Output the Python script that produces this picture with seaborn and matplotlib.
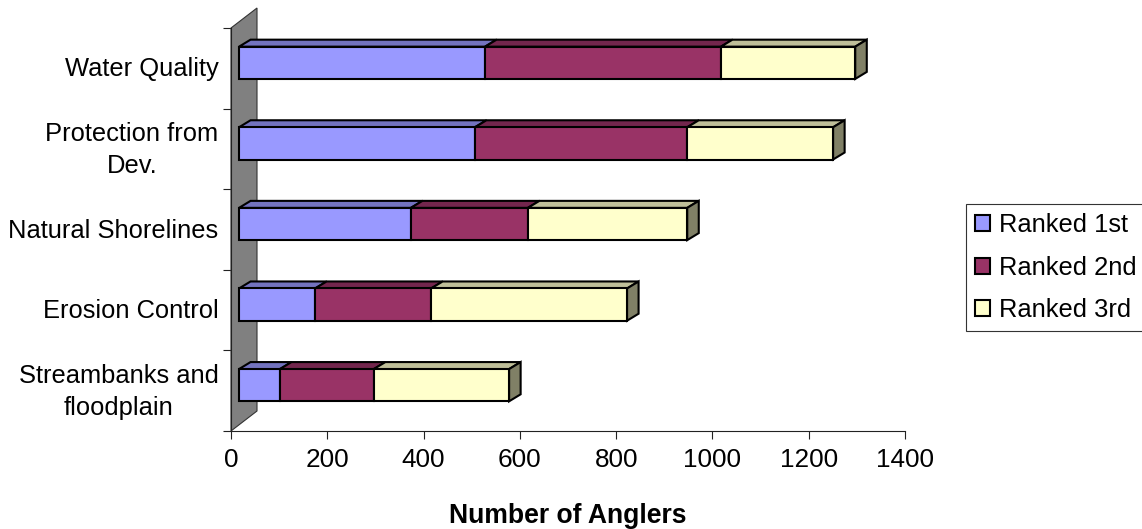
import matplotlib
matplotlib.use("Agg")
import matplotlib.pyplot as plt
import matplotlib.transforms as mtransforms
import numpy as np
import seaborn as sns
from matplotlib.patches import Polygon

categories = ["Water Quality", "Protection from\nDev.", "Natural Shorelines",
              "Erosion Control", "Streambanks and\nfloodplain"]
ranked_1st = [511, 490, 357, 158, 85]
ranked_2nd = [490, 441, 243, 241, 195]
ranked_3rd = [279, 303, 331, 407, 281]
series_names = ["Ranked 1st", "Ranked 2nd", "Ranked 3rd"]
x_ticks = [0, 200, 400, 600, 800, 1000, 1200, 1400]

colors = ["#9999FF", "#993366", "#FFFFCC"]
top_colors = ["#7373BF", "#73264D", "#BFBF99"]
side_color = "#808066"
FONT_SIZE = 18.4

sns.set_style("white")
plt.rcParams["font.family"] = ["Liberation Sans", "DejaVu Sans"]

W, H = 1142, 529
fig = plt.figure(figsize=(W / 100, H / 100), dpi=100)
ax = fig.add_axes([231 / W, 1 - 431 / H, 674 / W, 403 / H])

# stacked bars, drawn with seaborn one series at a time
lefts = np.zeros(len(categories))
for name, vals, col in zip(series_names, [ranked_1st, ranked_2nd, ranked_3rd], colors):
    sns.barplot(x=vals, y=categories, orient="h", color=col, saturation=1, width=0.4,
                left=lefts, edgecolor="black", linewidth=1.5, label=name, ax=ax, zorder=5)
    lefts = lefts + np.array(vals)

ax.set_xlim(0, 1400)
ax.set_ylim(4.5, -0.5)

# bars sit in the middle of the 3d depth
mid_depth = ax.transData + mtransforms.ScaledTranslation(8 / 100, 5.5 / 100, fig.dpi_scale_trans)
depth_x, depth_y = 24, 0.087
n = len(categories)
for i, container in enumerate(ax.containers):
    for bar in container:
        bar.set_transform(mid_depth)
        bar.set_clip_on(False)
        bar.set_joinstyle("miter")
        x0, x1 = bar.get_x(), bar.get_x() + bar.get_width()
        y0 = bar.get_y()
        y1 = y0 + bar.get_height()
        top = [(x0, y0), (x1, y0), (x1 + depth_x, y0 - depth_y), (x0 + depth_x, y0 - depth_y)]
        ax.add_patch(Polygon(top, closed=True, facecolor=top_colors[i], edgecolor="black",
                             linewidth=1.5, transform=mid_depth, clip_on=False, zorder=4,
                             joinstyle="miter"))
        if i == 2:
            side = [(x1, y0), (x1 + depth_x, y0 - depth_y), (x1 + depth_x, y1 - depth_y), (x1, y1)]
            ax.add_patch(Polygon(side, closed=True, facecolor=side_color, edgecolor="black",
                                 linewidth=1.5, transform=mid_depth, clip_on=False, zorder=4,
                                 joinstyle="miter"))

# grey back wall
wall_dx, wall_dy = 26 / 674, 20 / 403
ax.add_patch(Polygon([(0, 0), (wall_dx, wall_dy), (wall_dx, 1 + wall_dy), (0, 1)], closed=True,
                     facecolor="#808080", edgecolor="#333333", linewidth=0.8,
                     transform=ax.transAxes, clip_on=False, zorder=1))

sns.despine(ax=ax)
for side_name in ["left", "bottom"]:
    ax.spines[side_name].set_color("#222222")
    ax.spines[side_name].set_linewidth(0.8)

ax.set_xticks(x_ticks)
ax.set_xticklabels([str(t) for t in x_ticks])
ax.set_yticks(range(n))
ax.set_yticklabels(categories, multialignment="center", linespacing=1.4)
ax.set_yticks(np.arange(-0.5, n), minor=True)
ax.tick_params(axis="y", which="major", length=0, pad=9, labelsize=FONT_SIZE, labelcolor="black")
ax.tick_params(axis="y", which="minor", left=True, length=6, width=0.8, color="#222222")
ax.tick_params(axis="x", bottom=True, length=6, width=0.8, color="#222222", pad=6.5,
               labelsize=18.8, labelcolor="black")

# two-line labels sit a little higher than matplotlib centres them
for label in ax.get_yticklabels():
    up = 5 if "\n" in label.get_text() else 1.5
    label.set_transform(label.get_transform()
                        + mtransforms.ScaledTranslation(0, up / 100, fig.dpi_scale_trans))

ax.set_ylabel("")
ax.set_xlabel("Number of Anglers", fontsize=19.1, fontweight="bold", labelpad=22, color="black")

if ax.get_legend() is not None:
    ax.get_legend().remove()
handles = [c.patches[0] for c in ax.containers]
leg = fig.legend(handles, series_names, loc="upper left", bbox_to_anchor=(966 / W, 1 - 204 / H),
                 borderaxespad=0, fontsize=FONT_SIZE, frameon=True, fancybox=False, framealpha=1,
                 edgecolor="#333333", handlelength=0.58, handleheight=0.58, handletextpad=0.35,
                 labelspacing=0.72, borderpad=0.36, labelcolor="black")
leg.get_frame().set_linewidth(0.8)

fig.savefig("out.png", dpi=100)
